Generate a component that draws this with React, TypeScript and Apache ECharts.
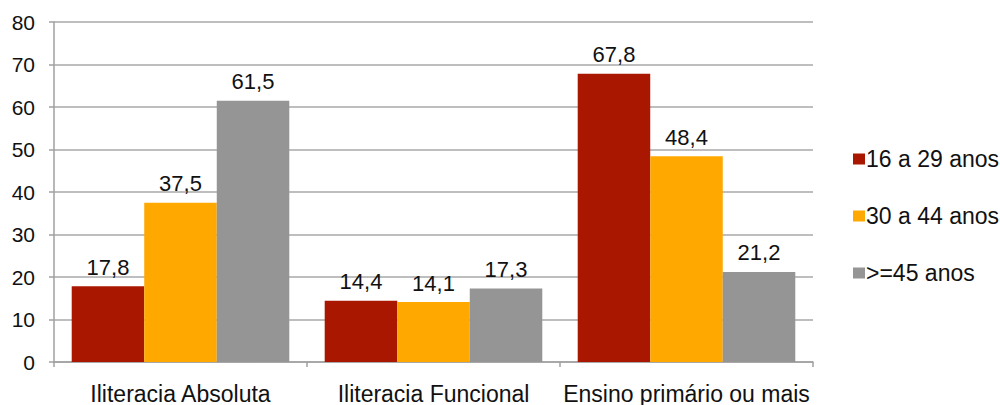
import React, { useEffect, useRef } from "react";
import * as echarts from "echarts";

const categories = ["Iliteracia Absoluta", "Iliteracia Funcional", "Ensino primário ou mais"];
const seriesNames = ["16 a 29 anos", "30 a 44 anos", ">=45 anos"];
const age16to29 = [17.8, 14.4, 67.8];
const age30to44 = [37.5, 14.1, 48.4];
const age45plus = [61.5, 17.3, 21.2];
const colors = ["#AA1700", "#FFA800", "#959595"];
const yTicks = { min: 0, max: 80, interval: 10 };

const FONT = "'Liberation Sans', Arial, Helvetica, sans-serif";

export default function App() {
  const ref = useRef<HTMLDivElement>(null);

  useEffect(() => {
    if (!ref.current) return;
    const chart = echarts.init(ref.current, undefined, { renderer: "svg" });
    const values = [age16to29, age30to44, age45plus];
    chart.setOption({
      animation: false,
      textStyle: { fontFamily: FONT },
      grid: { left: 54, right: 187, top: 22, bottom: 43, containLabel: false },
      legend: {
        orient: "vertical",
        left: 848,
        top: 142,
        icon: "rect",
        itemWidth: 12,
        itemHeight: 11,
        itemGap: 33,
        textStyle: { fontSize: 23, color: "#111", fontFamily: FONT, lineHeight: 24, padding: [0, 0, 0, -4] },
        data: seriesNames,
      },
      xAxis: {
        type: "category",
        data: categories,
        axisLine: { lineStyle: { color: "#A0A0A0", width: 1.5 } },
        axisTick: { show: true, length: 5, lineStyle: { color: "#A0A0A0", width: 1.5 } },
        axisLabel: { fontSize: 23, color: "#111", margin: 20, fontFamily: FONT, interval: 0, hideOverlap: false },
      },
      yAxis: {
        type: "value",
        min: yTicks.min,
        max: yTicks.max,
        interval: yTicks.interval,
        axisLine: { show: true, lineStyle: { color: "#A0A0A0", width: 1.5 } },
        axisTick: { show: true, length: 5, lineStyle: { color: "#A0A0A0", width: 1.5 } },
        axisLabel: { fontSize: 21, color: "#111", margin: 19, fontFamily: FONT },
        splitLine: { lineStyle: { color: "#A8A8A8", width: 1.5 } },
      },
      series: seriesNames.map((name, i) => ({
        name,
        type: "bar",
        data: values[i],
        barGap: "0%",
        barCategoryGap: "14%",
        itemStyle: { color: colors[i] },
        label: {
          show: true,
          position: "top",
          distance: 8,
          fontSize: 22,
          color: "#111",
          fontFamily: FONT,
          formatter: (p: any) => String(p.value).replace(".", ","),
        },
      })),
    });
    return () => chart.dispose();
  }, []);

  return <div ref={ref} style={{ width: 1000, height: 405, position: "absolute", left: 0, top: 0, background: "#fff" }} />;
}
